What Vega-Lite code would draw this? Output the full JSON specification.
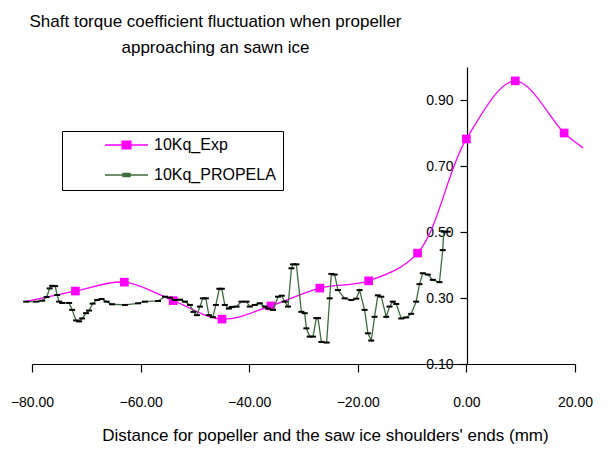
{
  "$schema": "https://vega.github.io/schema/vega-lite/v6.json",
  "width": 543,
  "height": 297,
  "autosize": {"type": "none"},
  "padding": {"left": 32, "top": 67, "right": 37, "bottom": 87},
  "background": "white",
  "title": {
    "text": ["Shaft torque coefficient fluctuation when propeller", "approaching an sawn ice"],
    "font": "Liberation Sans",
    "fontSize": 17,
    "fontWeight": "normal",
    "color": "black",
    "anchor": "middle",
    "frame": "group",
    "dx": -88,
    "offset": 10,
    "lineHeight": 26
  },
  "config": {
    "view": {"stroke": null},
    "axis": {
      "domainColor": "black",
      "tickColor": "black",
      "labelColor": "black",
      "titleColor": "black",
      "labelFont": "Liberation Sans",
      "titleFont": "Liberation Sans",
      "titleFontWeight": "normal",
      "grid": false,
      "domainWidth": 1.2,
      "tickWidth": 1.2,
      "labelFlush": false,
      "labelBound": false,
      "labelOverlap": false
    }
  },
  "data": {
    "values": [
      {"series": "10Kq_Exp", "x": -81, "y": 0.29},
      {"series": "10Kq_Exp", "x": -72, "y": 0.321},
      {"series": "10Kq_Exp", "x": -63, "y": 0.348},
      {"series": "10Kq_Exp", "x": -54, "y": 0.292},
      {"series": "10Kq_Exp", "x": -45, "y": 0.236},
      {"series": "10Kq_Exp", "x": -36, "y": 0.276},
      {"series": "10Kq_Exp", "x": -27, "y": 0.33},
      {"series": "10Kq_Exp", "x": -18, "y": 0.352},
      {"series": "10Kq_Exp", "x": -9, "y": 0.436},
      {"series": "10Kq_Exp", "x": 0, "y": 0.782},
      {"series": "10Kq_Exp", "x": 9, "y": 0.958},
      {"series": "10Kq_Exp", "x": 18, "y": 0.8},
      {"series": "10Kq_Exp", "x": 21.5, "y": 0.755},
      {"series": "10Kq_PROPELA", "x": -81.07, "y": 0.289},
      {"series": "10Kq_PROPELA", "x": -79.23, "y": 0.289},
      {"series": "10Kq_PROPELA", "x": -78.12, "y": 0.292},
      {"series": "10Kq_PROPELA", "x": -77.3, "y": 0.303},
      {"series": "10Kq_PROPELA", "x": -76.75, "y": 0.329},
      {"series": "10Kq_PROPELA", "x": -76.29, "y": 0.337},
      {"series": "10Kq_PROPELA", "x": -75.74, "y": 0.336},
      {"series": "10Kq_PROPELA", "x": -75.37, "y": 0.309},
      {"series": "10Kq_PROPELA", "x": -75.0, "y": 0.289},
      {"series": "10Kq_PROPELA", "x": -74.45, "y": 0.285},
      {"series": "10Kq_PROPELA", "x": -73.16, "y": 0.285},
      {"series": "10Kq_PROPELA", "x": -72.61, "y": 0.264},
      {"series": "10Kq_PROPELA", "x": -71.88, "y": 0.232},
      {"series": "10Kq_PROPELA", "x": -71.32, "y": 0.229},
      {"series": "10Kq_PROPELA", "x": -70.77, "y": 0.238},
      {"series": "10Kq_PROPELA", "x": -70.04, "y": 0.254},
      {"series": "10Kq_PROPELA", "x": -69.49, "y": 0.262},
      {"series": "10Kq_PROPELA", "x": -68.84, "y": 0.283},
      {"series": "10Kq_PROPELA", "x": -68.01, "y": 0.294},
      {"series": "10Kq_PROPELA", "x": -67.19, "y": 0.297},
      {"series": "10Kq_PROPELA", "x": -66.27, "y": 0.289},
      {"series": "10Kq_PROPELA", "x": -65.26, "y": 0.281},
      {"series": "10Kq_PROPELA", "x": -62.87, "y": 0.279},
      {"series": "10Kq_PROPELA", "x": -60.48, "y": 0.284},
      {"series": "10Kq_PROPELA", "x": -59.19, "y": 0.289},
      {"series": "10Kq_PROPELA", "x": -56.8, "y": 0.291},
      {"series": "10Kq_PROPELA", "x": -55.51, "y": 0.304},
      {"series": "10Kq_PROPELA", "x": -54.6, "y": 0.301},
      {"series": "10Kq_PROPELA", "x": -53.68, "y": 0.294},
      {"series": "10Kq_PROPELA", "x": -52.76, "y": 0.295},
      {"series": "10Kq_PROPELA", "x": -51.84, "y": 0.289},
      {"series": "10Kq_PROPELA", "x": -50.92, "y": 0.279},
      {"series": "10Kq_PROPELA", "x": -50.28, "y": 0.258},
      {"series": "10Kq_PROPELA", "x": -49.63, "y": 0.248},
      {"series": "10Kq_PROPELA", "x": -49.08, "y": 0.274},
      {"series": "10Kq_PROPELA", "x": -48.53, "y": 0.299},
      {"series": "10Kq_PROPELA", "x": -47.98, "y": 0.299},
      {"series": "10Kq_PROPELA", "x": -47.43, "y": 0.248},
      {"series": "10Kq_PROPELA", "x": -46.69, "y": 0.242},
      {"series": "10Kq_PROPELA", "x": -46.14, "y": 0.279},
      {"series": "10Kq_PROPELA", "x": -45.5, "y": 0.328},
      {"series": "10Kq_PROPELA", "x": -45.04, "y": 0.328},
      {"series": "10Kq_PROPELA", "x": -44.49, "y": 0.279},
      {"series": "10Kq_PROPELA", "x": -43.75, "y": 0.268},
      {"series": "10Kq_PROPELA", "x": -43.2, "y": 0.273},
      {"series": "10Kq_PROPELA", "x": -42.33, "y": 0.274},
      {"series": "10Kq_PROPELA", "x": -41.42, "y": 0.289},
      {"series": "10Kq_PROPELA", "x": -40.5, "y": 0.289},
      {"series": "10Kq_PROPELA", "x": -39.89, "y": 0.274},
      {"series": "10Kq_PROPELA", "x": -38.97, "y": 0.279},
      {"series": "10Kq_PROPELA", "x": -38.05, "y": 0.284},
      {"series": "10Kq_PROPELA", "x": -37.13, "y": 0.274},
      {"series": "10Kq_PROPELA", "x": -36.53, "y": 0.268},
      {"series": "10Kq_PROPELA", "x": -35.61, "y": 0.264},
      {"series": "10Kq_PROPELA", "x": -34.69, "y": 0.304},
      {"series": "10Kq_PROPELA", "x": -34.01, "y": 0.307},
      {"series": "10Kq_PROPELA", "x": -33.46, "y": 0.289},
      {"series": "10Kq_PROPELA", "x": -32.85, "y": 0.274},
      {"series": "10Kq_PROPELA", "x": -32.22, "y": 0.39},
      {"series": "10Kq_PROPELA", "x": -31.93, "y": 0.402},
      {"series": "10Kq_PROPELA", "x": -31.31, "y": 0.402},
      {"series": "10Kq_PROPELA", "x": -30.39, "y": 0.258},
      {"series": "10Kq_PROPELA", "x": -29.78, "y": 0.254},
      {"series": "10Kq_PROPELA", "x": -29.47, "y": 0.208},
      {"series": "10Kq_PROPELA", "x": -28.86, "y": 0.183},
      {"series": "10Kq_PROPELA", "x": -28.25, "y": 0.183},
      {"series": "10Kq_PROPELA", "x": -27.63, "y": 0.239},
      {"series": "10Kq_PROPELA", "x": -27.33, "y": 0.239},
      {"series": "10Kq_PROPELA", "x": -26.71, "y": 0.167},
      {"series": "10Kq_PROPELA", "x": -25.74, "y": 0.165},
      {"series": "10Kq_PROPELA", "x": -25.18, "y": 0.299},
      {"series": "10Kq_PROPELA", "x": -24.87, "y": 0.373},
      {"series": "10Kq_PROPELA", "x": -24.26, "y": 0.371},
      {"series": "10Kq_PROPELA", "x": -23.66, "y": 0.324},
      {"series": "10Kq_PROPELA", "x": -22.43, "y": 0.299},
      {"series": "10Kq_PROPELA", "x": -21.19, "y": 0.294},
      {"series": "10Kq_PROPELA", "x": -20.28, "y": 0.298},
      {"series": "10Kq_PROPELA", "x": -19.67, "y": 0.324},
      {"series": "10Kq_PROPELA", "x": -18.75, "y": 0.264},
      {"series": "10Kq_PROPELA", "x": -18.14, "y": 0.193},
      {"series": "10Kq_PROPELA", "x": -17.52, "y": 0.171},
      {"series": "10Kq_PROPELA", "x": -16.91, "y": 0.243},
      {"series": "10Kq_PROPELA", "x": -16.31, "y": 0.308},
      {"series": "10Kq_PROPELA", "x": -15.68, "y": 0.304},
      {"series": "10Kq_PROPELA", "x": -14.76, "y": 0.243},
      {"series": "10Kq_PROPELA", "x": -14.15, "y": 0.274},
      {"series": "10Kq_PROPELA", "x": -13.55, "y": 0.289},
      {"series": "10Kq_PROPELA", "x": -12.92, "y": 0.282},
      {"series": "10Kq_PROPELA", "x": -12.0, "y": 0.238},
      {"series": "10Kq_PROPELA", "x": -11.08, "y": 0.241},
      {"series": "10Kq_PROPELA", "x": -10.17, "y": 0.252},
      {"series": "10Kq_PROPELA", "x": -9.25, "y": 0.289},
      {"series": "10Kq_PROPELA", "x": -8.64, "y": 0.342},
      {"series": "10Kq_PROPELA", "x": -8.03, "y": 0.375},
      {"series": "10Kq_PROPELA", "x": -7.11, "y": 0.371},
      {"series": "10Kq_PROPELA", "x": -6.19, "y": 0.355},
      {"series": "10Kq_PROPELA", "x": -4.96, "y": 0.348},
      {"series": "10Kq_PROPELA", "x": -4.36, "y": 0.445},
      {"series": "10Kq_PROPELA", "x": -4.17, "y": 0.501},
      {"series": "10Kq_PROPELA", "x": -3.44, "y": 0.501}
    ]
  },
  "encoding": {
    "x": {
      "field": "x",
      "type": "quantitative",
      "scale": {"domain": [-80, 20], "nice": false, "zero": false},
      "axis": {
        "values": [-80, -60, -40, -20, 0, 20],
        "format": ".2f",
        "tickSize": 8,
        "labelPadding": 23,
        "labelFontSize": 14,
        "title": "Distance for popeller and the saw ice shoulders' ends (mm)",
        "titleFontSize": 17,
        "titlePadding": 18,
        "titleX": 293
      }
    },
    "y": {
      "field": "y",
      "type": "quantitative",
      "scale": {"domain": [0.1, 1.0], "nice": false, "zero": false},
      "axis": {
        "values": [0.1, 0.3, 0.5, 0.7, 0.9],
        "format": ".2f",
        "offset": -435,
        "tickSize": 7,
        "labelPadding": 7,
        "labelFontSize": 14,
        "title": null
      }
    }
  },
  "layer": [
    {
      "transform": [{"filter": "datum.series == '10Kq_Exp'"}],
      "mark": {"type": "line", "interpolate": "catmull-rom", "color": "#ff00ff", "strokeWidth": 1.3}
    },
    {
      "transform": [{"filter": "datum.series == '10Kq_Exp' && datum.x > -80 && datum.x < 20"}],
      "mark": {"type": "point", "filled": true, "shape": "square", "size": 75, "opacity": 1, "color": "#ff00ff"}
    },
    {
      "transform": [{"filter": "datum.series == '10Kq_PROPELA'"}],
      "mark": {"type": "line", "color": "#3d6b3d", "strokeWidth": 1.3}
    },
    {
      "transform": [{"filter": "datum.series == '10Kq_PROPELA'"}],
      "mark": {"type": "point", "filled": true, "shape": "M-1,-0.33H1V0.33H-1Z", "size": 36, "opacity": 1, "color": "#000000"}
    },
    {
      "transform": [{"filter": "false"}],
      "mark": {"type": "point", "filled": true, "opacity": 1, "strokeWidth": 1.5},
      "encoding": {
        "color": {
          "field": "series",
          "type": "nominal",
          "scale": {"domain": ["10Kq_Exp", "10Kq_PROPELA"], "range": ["#ff00ff", "#000000"]},
          "legend": {
            "orient": "none",
            "legendX": 30,
            "legendY": 64,
            "title": null,
            "strokeColor": "black",
            "fillColor": "white",
            "padding": 7,
            "symbolSize": 1849,
            "symbolStrokeWidth": 1.5,
            "symbolOpacity": 1,
            "symbolOffset": 35,
            "labelOffset": 5,
            "clipHeight": 14,
            "rowPadding": 14,
            "labelFont": "Liberation Sans",
            "labelFontSize": 16,
            "labelColor": "black",
            "labelExpr": "datum.label + '\u00a0\u00a0\u00a0\u00a0\u00a0\u00a0\u00a0\u00a0'"
          }
        },
        "stroke": {
          "field": "series",
          "type": "nominal",
          "scale": {"domain": ["10Kq_Exp", "10Kq_PROPELA"], "range": ["#ff00ff", "#3d6b3d"]}
        },
        "shape": {
          "field": "series",
          "type": "nominal",
          "scale": {"domain": ["10Kq_Exp", "10Kq_PROPELA"], "range": ["M-1,0H1M-0.2,-0.17H0.2V0.17H-0.2Z", "M-1,0H1M-0.16,-0.07H0.16V0.07H-0.16Z"]}
        }
      }
    }
  ]
}
